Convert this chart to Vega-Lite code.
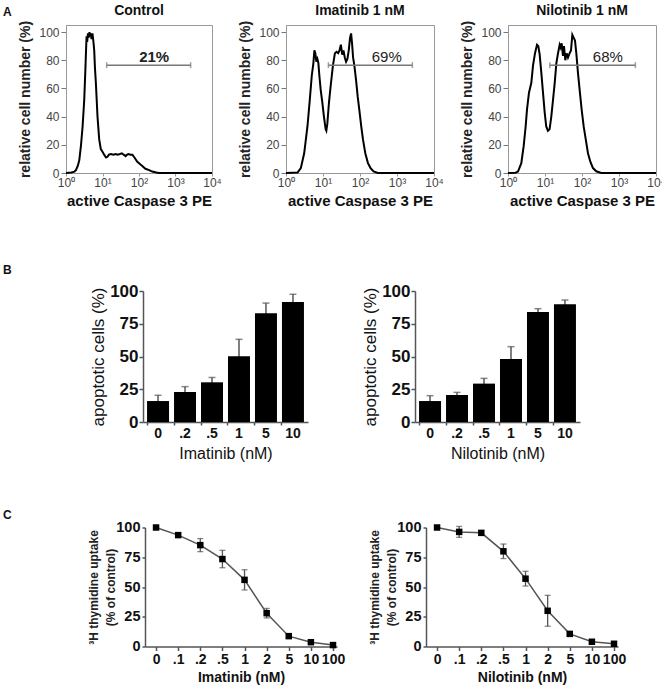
{
 "$schema": "https://vega.github.io/schema/vega-lite/v6.json",
 "padding": {"left": 0, "top": 3, "right": 0, "bottom": 0},
 "background": "white",
 "config": {"font": "Liberation Sans", "view": {"stroke": null}, "axis": {"grid": false, "labelOverlap": false}},
 "datasets": {
  "ctrl": [{"x":1,"y":0},{"x":1.4,"y":0.3},{"x":1.7,"y":1},{"x":1.87,"y":2},{"x":2.1,"y":5},{"x":2.31,"y":9},{"x":2.56,"y":19},{"x":2.85,"y":33},{"x":3.16,"y":52},{"x":3.37,"y":71},{"x":3.55,"y":88},{"x":3.66,"y":97},{"x":3.8,"y":93},{"x":4.0,"y":99},{"x":4.2,"y":96},{"x":4.4,"y":100},{"x":4.6,"y":97},{"x":4.8,"y":99},{"x":5.0,"y":95},{"x":5.3,"y":99},{"x":5.6,"y":94},{"x":5.93,"y":87},{"x":6.2,"y":75},{"x":6.58,"y":64},{"x":7.3,"y":40},{"x":8.11,"y":24},{"x":8.98,"y":17},{"x":10,"y":15},{"x":11.1,"y":13},{"x":12.5,"y":11},{"x":13.7,"y":11.5},{"x":15,"y":13},{"x":17,"y":13.5},{"x":20,"y":13},{"x":23,"y":13.5},{"x":26,"y":13},{"x":30,"y":13.5},{"x":34,"y":14},{"x":38,"y":13},{"x":43,"y":12},{"x":47,"y":13},{"x":52,"y":13.5},{"x":58,"y":13},{"x":66,"y":13},{"x":75,"y":11},{"x":90,"y":8},{"x":110,"y":6},{"x":123,"y":5},{"x":150,"y":3},{"x":190,"y":2},{"x":230,"y":1},{"x":300,"y":0.3},{"x":350,"y":0},{"x":10000,"y":0}],
  "imat": [{"x":1,"y":0},{"x":2.05,"y":0.3},{"x":2.52,"y":3.5},{"x":3.1,"y":14},{"x":3.8,"y":33},{"x":4.4,"y":52},{"x":4.97,"y":69},{"x":5.5,"y":78},{"x":5.85,"y":87},{"x":6.2,"y":85},{"x":6.6,"y":79},{"x":7.05,"y":81},{"x":7.5,"y":78},{"x":7.98,"y":69},{"x":8.66,"y":59},{"x":9.6,"y":50},{"x":10.6,"y":40},{"x":11.8,"y":31},{"x":12.3,"y":30},{"x":13.1,"y":35},{"x":14.5,"y":50},{"x":16,"y":61},{"x":18.5,"y":76},{"x":21,"y":85},{"x":23.2,"y":86},{"x":25.7,"y":85},{"x":27.9,"y":87},{"x":30.4,"y":91},{"x":33,"y":84},{"x":35.8,"y":87},{"x":38.8,"y":82},{"x":42,"y":79},{"x":45.7,"y":81},{"x":49.7,"y":87},{"x":53.9,"y":96},{"x":57.5,"y":99},{"x":61,"y":92},{"x":65,"y":82},{"x":70.6,"y":76},{"x":78.1,"y":66},{"x":86.8,"y":54},{"x":95.7,"y":45},{"x":108,"y":33},{"x":120,"y":24},{"x":139,"y":14},{"x":164,"y":7},{"x":193,"y":3.5},{"x":232,"y":1.2},{"x":303,"y":0},{"x":10000,"y":0}],
  "nilo": [{"x":1,"y":0},{"x":1.6,"y":0.2},{"x":1.86,"y":1},{"x":2.29,"y":7},{"x":2.65,"y":19},{"x":3.0,"y":33},{"x":3.26,"y":45},{"x":3.69,"y":57},{"x":4.27,"y":64},{"x":4.73,"y":76},{"x":5.37,"y":85},{"x":6.08,"y":91},{"x":6.6,"y":90},{"x":7.18,"y":84},{"x":7.96,"y":71},{"x":8.83,"y":57},{"x":9.8,"y":43},{"x":10.8,"y":33},{"x":12.0,"y":30},{"x":13.3,"y":31},{"x":14.8,"y":40},{"x":16.5,"y":52},{"x":18.3,"y":64},{"x":20.3,"y":78},{"x":22.5,"y":85},{"x":24.9,"y":91},{"x":26.5,"y":89},{"x":28.2,"y":92},{"x":30.6,"y":83},{"x":32.6,"y":90},{"x":35.4,"y":80},{"x":38.5,"y":85},{"x":41.8,"y":82},{"x":46.4,"y":85},{"x":50.4,"y":87},{"x":54.8,"y":98},{"x":59.5,"y":96},{"x":64.6,"y":94},{"x":70.2,"y":85},{"x":77.8,"y":71},{"x":86.4,"y":59},{"x":97.9,"y":45},{"x":111,"y":33},{"x":126,"y":24},{"x":145,"y":14},{"x":168,"y":8},{"x":198,"y":3.5},{"x":243,"y":1.2},{"x":331,"y":0},{"x":10000,"y":0}],
  "barI": [{"dose":"0","pct":16,"err":4.4},{"dose":".2","pct":22.9,"err":4.1},{"dose":".5","pct":30.3,"err":3.7},{"dose":"1","pct":50.1,"err":13},{"dose":"5","pct":83,"err":7.8},{"dose":"10","pct":91.6,"err":5.9}],
  "barN": [{"dose":"0","pct":16,"err":4.1},{"dose":".2","pct":20.6,"err":2},{"dose":".5","pct":29.3,"err":4},{"dose":"1","pct":48.1,"err":9.4},{"dose":"5","pct":84,"err":2.5},{"dose":"10","pct":89.8,"err":3.3}],
  "thyI": [{"dose":"0","v":100,"err":0},{"dose":".1","v":93.6,"err":1},{"dose":".2","v":85.2,"err":5.5},{"dose":".5","v":73.5,"err":7.3},{"dose":"1","v":56,"err":8.5},{"dose":"2","v":28,"err":4},{"dose":"5","v":8.7,"err":1},{"dose":"10","v":3.6,"err":1},{"dose":"100","v":1.2,"err":0.5}],
  "thyN": [{"dose":"0","v":100,"err":0},{"dose":".1","v":96.3,"err":4.6},{"dose":".2","v":95.5,"err":1.5},{"dose":".5","v":80,"err":6.1},{"dose":"1","v":57,"err":6.2},{"dose":"2","v":30,"err":13},{"dose":"5","v":10.6,"err":1},{"dose":"10","v":4,"err":1},{"dose":"100","v":2.3,"err":0.5}]
 },
 "spacing": 54,
 "vconcat": [
  {
   "title": {"text": "A", "anchor": "start", "frame": "bounds", "fontSize": 12, "fontWeight": "bold", "color": "#111", "offset": -24.5, "dx": 3, "baseline": "alphabetic"},
   "spacing": 16,
   "hconcat": [
    {"width": 2, "height": 1, "view": {"fill": "white", "stroke": null}, "data": {"values": [{"t": ""}]}, "mark": "text", "encoding": {"text": {"field": "t"}}},
    {
     "width": 146, "height": 148,
     "title": {"text": "Control", "fontSize": 14, "fontWeight": "bold", "color": "#111", "offset": -9, "baseline": "alphabetic", "frame": "group", "anchor": "middle"},
     "view": {"stroke": "#999", "strokeWidth": 1},
     "layer": [
      {"data": {"name": "ctrl"}, "mark": {"type": "line", "color": "#000", "strokeWidth": 2},
       "encoding": {
        "x": {"field": "x", "type": "quantitative", "scale": {"type": "log", "domain": [1, 10000], "nice": false},
              "axis": {"title": "active Caspase 3 PE", "titleFontSize": 15, "titleFontWeight": "bold", "titleColor": "#111", "titlePadding": 5, "values": [1, 10, 100, 1000, 10000], "tickCount": 20, "labelExpr": "['10⁰','10¹','10²','10³','10⁴'][round(log(datum.value)/LN10)]", "labelFontSize": 12, "labelColor": "#444", "labelFlush": false, "labelOverlap": false, "tickSize": 3, "labelPadding": 1, "domainColor": "#999", "tickColor": "#999"}},
        "y": {"field": "y", "type": "quantitative", "scale": {"domain": [0, 105], "nice": false},
              "axis": {"title": "relative cell number (%)", "titleFontSize": 14, "titleFontWeight": "bold", "titleColor": "#222", "titlePadding": 6, "values": [0, 20, 40, 60, 80, 100], "tickCount": 20, "labelOverlap": false, "labelFontSize": 12, "labelColor": "#444", "tickSize": 5, "labelPadding": 2, "domainColor": "#999", "tickColor": "#777"}}
       }},
      {"data": {"values": [{"x": 13, "x2": 2600, "y": 76.5}]}, "mark": {"type": "errorbar", "color": "#777", "thickness": 1.5, "ticks": {"size": 6, "thickness": 1.5}},
       "encoding": {"x": {"field": "x", "type": "quantitative", "title": "active Caspase 3 PE"}, "x2": {"field": "x2"}, "y": {"field": "y", "type": "quantitative", "title": "relative cell number (%)"}}},
      {"data": {"values": [{"x": 260, "y": 82, "label": "21%"}]}, "mark": {"type": "text", "fontSize": 15, "fontWeight": "bold", "color": "#222", "baseline": "middle"},
       "encoding": {"x": {"field": "x", "type": "quantitative", "title": "active Caspase 3 PE"}, "y": {"field": "y", "type": "quantitative", "title": "relative cell number (%)"}, "text": {"field": "label"}}}
     ]
    },
    {
     "width": 148, "height": 148,
     "title": {"text": "Imatinib 1 nM", "fontSize": 14, "fontWeight": "bold", "color": "#111", "offset": -9, "baseline": "alphabetic", "frame": "group", "anchor": "middle"},
     "view": {"stroke": "#999", "strokeWidth": 1},
     "layer": [
      {"data": {"name": "imat"}, "mark": {"type": "line", "color": "#000", "strokeWidth": 2},
       "encoding": {
        "x": {"field": "x", "type": "quantitative", "scale": {"type": "log", "domain": [1, 10000], "nice": false},
              "axis": {"title": "active Caspase 3 PE", "titleFontSize": 15, "titleFontWeight": "bold", "titleColor": "#111", "titlePadding": 5, "values": [1, 10, 100, 1000, 10000], "tickCount": 20, "labelExpr": "['10⁰','10¹','10²','10³','10⁴'][round(log(datum.value)/LN10)]", "labelFontSize": 12, "labelColor": "#444", "labelFlush": false, "labelOverlap": false, "tickSize": 3, "labelPadding": 1, "domainColor": "#999", "tickColor": "#999"}},
        "y": {"field": "y", "type": "quantitative", "scale": {"domain": [0, 105], "nice": false},
              "axis": {"title": "relative cell number (%)", "titleFontSize": 14, "titleFontWeight": "bold", "titleColor": "#222", "titlePadding": 6, "values": [0, 20, 40, 60, 80, 100], "tickCount": 20, "labelOverlap": false, "labelFontSize": 12, "labelColor": "#444", "tickSize": 5, "labelPadding": 2, "domainColor": "#999", "tickColor": "#777"}}
       }},
      {"data": {"values": [{"x": 14, "x2": 2600, "y": 76.5}]}, "mark": {"type": "errorbar", "color": "#777", "thickness": 1.5, "ticks": {"size": 6, "thickness": 1.5}},
       "encoding": {"x": {"field": "x", "type": "quantitative", "title": "active Caspase 3 PE"}, "x2": {"field": "x2"}, "y": {"field": "y", "type": "quantitative", "title": "relative cell number (%)"}}},
      {"data": {"values": [{"x": 530, "y": 82, "label": "69%"}]}, "mark": {"type": "text", "fontSize": 15, "fontWeight": "normal", "color": "#222", "baseline": "middle"},
       "encoding": {"x": {"field": "x", "type": "quantitative", "title": "active Caspase 3 PE"}, "y": {"field": "y", "type": "quantitative", "title": "relative cell number (%)"}, "text": {"field": "label"}}}
     ]
    },
    {
     "width": 148, "height": 148,
     "title": {"text": "Nilotinib 1 nM", "fontSize": 14, "fontWeight": "bold", "color": "#111", "offset": -9, "baseline": "alphabetic", "frame": "group", "anchor": "middle"},
     "view": {"stroke": "#999", "strokeWidth": 1},
     "layer": [
      {"data": {"name": "nilo"}, "mark": {"type": "line", "color": "#000", "strokeWidth": 2},
       "encoding": {
        "x": {"field": "x", "type": "quantitative", "scale": {"type": "log", "domain": [1, 10000], "nice": false},
              "axis": {"title": "active Caspase 3 PE", "titleFontSize": 15, "titleFontWeight": "bold", "titleColor": "#111", "titlePadding": 5, "values": [1, 10, 100, 1000, 10000], "tickCount": 20, "labelExpr": "['10⁰','10¹','10²','10³','10⁴'][round(log(datum.value)/LN10)]", "labelFontSize": 12, "labelColor": "#444", "labelFlush": false, "labelOverlap": false, "tickSize": 3, "labelPadding": 1, "domainColor": "#999", "tickColor": "#999"}},
        "y": {"field": "y", "type": "quantitative", "scale": {"domain": [0, 105], "nice": false},
              "axis": {"title": "relative cell number (%)", "titleFontSize": 14, "titleFontWeight": "bold", "titleColor": "#222", "titlePadding": 6, "values": [0, 20, 40, 60, 80, 100], "tickCount": 20, "labelOverlap": false, "labelFontSize": 12, "labelColor": "#444", "tickSize": 5, "labelPadding": 2, "domainColor": "#999", "tickColor": "#777"}}
       }},
      {"data": {"values": [{"x": 13.5, "x2": 2770, "y": 76.5}]}, "mark": {"type": "errorbar", "color": "#777", "thickness": 1.5, "ticks": {"size": 6, "thickness": 1.5}},
       "encoding": {"x": {"field": "x", "type": "quantitative", "title": "active Caspase 3 PE"}, "x2": {"field": "x2"}, "y": {"field": "y", "type": "quantitative", "title": "relative cell number (%)"}}},
      {"data": {"values": [{"x": 500, "y": 82, "label": "68%"}]}, "mark": {"type": "text", "fontSize": 15, "fontWeight": "normal", "color": "#222", "baseline": "middle"},
       "encoding": {"x": {"field": "x", "type": "quantitative", "title": "active Caspase 3 PE"}, "y": {"field": "y", "type": "quantitative", "title": "relative cell number (%)"}, "text": {"field": "label"}}}
     ]
    }
   ]
  },
  {
   "spacing": 46.5,
   "vconcat": [
    {
     "title": {"text": "B", "anchor": "start", "frame": "bounds", "fontSize": 12, "fontWeight": "bold", "color": "#111", "offset": -3.5, "dx": 3, "baseline": "alphabetic"},
     "spacing": 53,
     "hconcat": [
      {"width": 36, "height": 1, "view": {"fill": "white", "stroke": null}, "data": {"values": [{"t": ""}]}, "mark": "text", "encoding": {"text": {"field": "t"}}},
      {
       "width": 165, "height": 131, "data": {"name": "barI"},
       "layer": [
        {"mark": {"type": "errorbar", "color": "#555", "thickness": 1.5, "ticks": {"size": 7, "thickness": 1.5}},
         "encoding": {
          "x": {"field": "dose", "type": "ordinal", "sort": ["0", ".2", ".5", "1", "5", "10"], "scale": {"paddingInner": 0.185, "paddingOuter": 0.15}, "axis": {"title": "Imatinib (nM)", "titleFontSize": 16, "titleFontWeight": "normal", "titleColor": "#111", "titlePadding": 5.5, "labelAngle": 0, "labelFontSize": 14, "labelFontWeight": "bold", "labelColor": "#111", "labelPadding": 1, "tickSize": 3, "bandPosition": 0, "domainColor": "#555", "domainWidth": 1.5, "tickColor": "#555", "tickWidth": 1.5}},
          "y": {"field": "pct", "type": "quantitative", "title": "apoptotic cells (%)", "scale": {"domain": [0, 100], "nice": false}, "axis": {"titleFontSize": 17, "titleFontWeight": "normal", "titleColor": "#111", "titlePadding": 2, "values": [0, 25, 50, 75, 100], "tickCount": 20, "labelOverlap": false, "labelFontSize": 17, "labelFontWeight": "bold", "labelColor": "#111", "labelPadding": 1, "tickSize": 4, "domainColor": "#555", "domainWidth": 1.5, "tickColor": "#555", "tickWidth": 1.5}},
          "yError": {"field": "err"}
         }},
        {"mark": {"type": "bar", "color": "#000"},
         "encoding": {
          "x": {"field": "dose", "type": "ordinal", "sort": ["0", ".2", ".5", "1", "5", "10"], "title": "Imatinib (nM)"},
          "y": {"field": "pct", "type": "quantitative", "title": "apoptotic cells (%)"}
         }}
       ]
      },
      {
       "width": 165, "height": 131, "data": {"name": "barN"},
       "layer": [
        {"mark": {"type": "errorbar", "color": "#555", "thickness": 1.5, "ticks": {"size": 7, "thickness": 1.5}},
         "encoding": {
          "x": {"field": "dose", "type": "ordinal", "sort": ["0", ".2", ".5", "1", "5", "10"], "scale": {"paddingInner": 0.185, "paddingOuter": 0.15}, "axis": {"title": "Nilotinib (nM)", "titleFontSize": 16, "titleFontWeight": "normal", "titleColor": "#111", "titlePadding": 5.5, "labelAngle": 0, "labelFontSize": 14, "labelFontWeight": "bold", "labelColor": "#111", "labelPadding": 1, "tickSize": 3, "bandPosition": 0, "domainColor": "#555", "domainWidth": 1.5, "tickColor": "#555", "tickWidth": 1.5}},
          "y": {"field": "pct", "type": "quantitative", "title": "apoptotic cells (%)", "scale": {"domain": [0, 100], "nice": false}, "axis": {"titleFontSize": 17, "titleFontWeight": "normal", "titleColor": "#111", "titlePadding": 2, "values": [0, 25, 50, 75, 100], "tickCount": 20, "labelOverlap": false, "labelFontSize": 17, "labelFontWeight": "bold", "labelColor": "#111", "labelPadding": 1, "tickSize": 4, "domainColor": "#555", "domainWidth": 1.5, "tickColor": "#555", "tickWidth": 1.5}},
          "yError": {"field": "err"}
         }},
        {"mark": {"type": "bar", "color": "#000"},
         "encoding": {
          "x": {"field": "dose", "type": "ordinal", "sort": ["0", ".2", ".5", "1", "5", "10"], "title": "Nilotinib (nM)"},
          "y": {"field": "pct", "type": "quantitative", "title": "apoptotic cells (%)"}
         }}
       ]
      }
     ]
    },
    {
     "title": {"text": "C", "anchor": "start", "frame": "bounds", "fontSize": 12, "fontWeight": "bold", "color": "#111", "offset": -11, "dx": 3, "baseline": "alphabetic"},
     "spacing": 22,
     "hconcat": [
      {"width": 64, "height": 1, "view": {"fill": "white", "stroke": null}, "data": {"values": [{"t": ""}]}, "mark": "text", "encoding": {"text": {"field": "t"}}},
      {
       "width": 192, "height": 119, "data": {"name": "thyI"},
       "layer": [
        {"mark": {"type": "errorbar", "color": "#555", "thickness": 1.3, "ticks": {"size": 6, "thickness": 1.3}},
         "encoding": {
          "x": {"field": "dose", "type": "ordinal", "sort": ["0", ".1", ".2", ".5", "1", "2", "5", "10", "100"], "scale": {"type": "point", "padding": 0.34, "align": 0.735}, "axis": {"title": "Imatinib (nM)", "titleFontSize": 14, "titleFontWeight": "bold", "titleColor": "#111", "titlePadding": 4, "labelAngle": 0, "labelFontSize": 14, "labelFontWeight": "bold", "labelColor": "#111", "labelPadding": 2, "tickSize": 4, "domainColor": "#555", "domainWidth": 1.5, "tickColor": "#555", "tickWidth": 1.5}},
          "y": {"field": "v", "type": "quantitative", "title": ["³H thymidine uptake", "(% of control)"], "scale": {"domain": [0, 100], "nice": false}, "axis": {"titleFontSize": 12, "titleFontWeight": "bold", "titleColor": "#222", "titleLineHeight": 17, "titleX": -45, "values": [0, 25, 50, 75, 100], "tickCount": 20, "labelOverlap": false, "labelFontSize": 14.5, "labelFontWeight": "bold", "labelColor": "#111", "labelPadding": 2, "tickSize": 3, "domainColor": "#555", "domainWidth": 1.5, "tickColor": "#555", "tickWidth": 1.5}},
          "yError": {"field": "err"}
         }},
        {"mark": {"type": "line", "color": "#555", "strokeWidth": 1.5},
         "encoding": {
          "x": {"field": "dose", "type": "ordinal", "sort": ["0", ".1", ".2", ".5", "1", "2", "5", "10", "100"], "title": "Imatinib (nM)"},
          "y": {"field": "v", "type": "quantitative", "title": ["³H thymidine uptake", "(% of control)"]}
         }},
        {"mark": {"type": "square", "color": "#000", "size": 42, "opacity": 1, "filled": true},
         "encoding": {
          "x": {"field": "dose", "type": "ordinal", "sort": ["0", ".1", ".2", ".5", "1", "2", "5", "10", "100"], "title": "Imatinib (nM)"},
          "y": {"field": "v", "type": "quantitative", "title": ["³H thymidine uptake", "(% of control)"]}
         }}
       ]
      },
      {
       "width": 192, "height": 119, "data": {"name": "thyN"},
       "layer": [
        {"mark": {"type": "errorbar", "color": "#555", "thickness": 1.3, "ticks": {"size": 6, "thickness": 1.3}},
         "encoding": {
          "x": {"field": "dose", "type": "ordinal", "sort": ["0", ".1", ".2", ".5", "1", "2", "5", "10", "100"], "scale": {"type": "point", "padding": 0.34, "align": 0.735}, "axis": {"title": "Nilotinib (nM)", "titleFontSize": 14, "titleFontWeight": "bold", "titleColor": "#111", "titlePadding": 4, "labelAngle": 0, "labelFontSize": 14, "labelFontWeight": "bold", "labelColor": "#111", "labelPadding": 2, "tickSize": 4, "domainColor": "#555", "domainWidth": 1.5, "tickColor": "#555", "tickWidth": 1.5}},
          "y": {"field": "v", "type": "quantitative", "title": ["³H thymidine uptake", "(% of control)"], "scale": {"domain": [0, 100], "nice": false}, "axis": {"titleFontSize": 12, "titleFontWeight": "bold", "titleColor": "#222", "titleLineHeight": 17, "titleX": -45, "values": [0, 25, 50, 75, 100], "tickCount": 20, "labelOverlap": false, "labelFontSize": 14.5, "labelFontWeight": "bold", "labelColor": "#111", "labelPadding": 2, "tickSize": 3, "domainColor": "#555", "domainWidth": 1.5, "tickColor": "#555", "tickWidth": 1.5}},
          "yError": {"field": "err"}
         }},
        {"mark": {"type": "line", "color": "#555", "strokeWidth": 1.5},
         "encoding": {
          "x": {"field": "dose", "type": "ordinal", "sort": ["0", ".1", ".2", ".5", "1", "2", "5", "10", "100"], "title": "Nilotinib (nM)"},
          "y": {"field": "v", "type": "quantitative", "title": ["³H thymidine uptake", "(% of control)"]}
         }},
        {"mark": {"type": "square", "color": "#000", "size": 42, "opacity": 1, "filled": true},
         "encoding": {
          "x": {"field": "dose", "type": "ordinal", "sort": ["0", ".1", ".2", ".5", "1", "2", "5", "10", "100"], "title": "Nilotinib (nM)"},
          "y": {"field": "v", "type": "quantitative", "title": ["³H thymidine uptake", "(% of control)"]}
         }}
       ]
      }
     ]
    }
   ]
  }
 ]
}
